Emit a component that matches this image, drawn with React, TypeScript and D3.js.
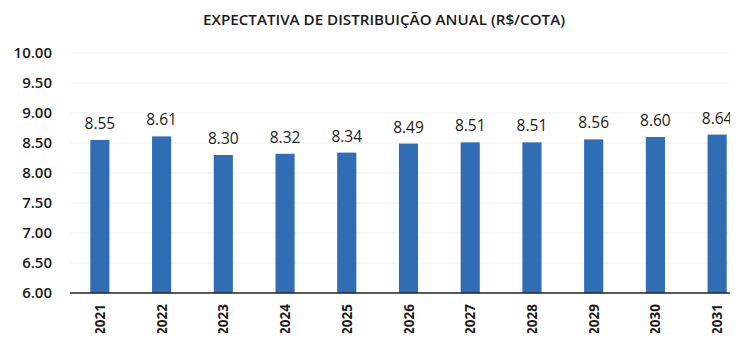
import React, { useEffect, useRef } from "react";
import * as d3 from "d3";

const years = ["2021", "2022", "2023", "2024", "2025", "2026", "2027", "2028", "2029", "2030", "2031"];
const distribution = [8.55, 8.61, 8.3, 8.32, 8.34, 8.49, 8.51, 8.51, 8.56, 8.6, 8.64];
const yTicks = [6, 6.5, 7, 7.5, 8, 8.5, 9, 9.5, 10];
const title = "EXPECTATIVA DE DISTRIBUIÇÃO ANUAL (R$/COTA)";

const W = 738;
const H = 341;
const FONT = "'Open Sans', 'Noto Sans', sans-serif";

export default function App() {
  const ref = useRef<SVGSVGElement>(null);

  useEffect(() => {
    const svg = d3.select(ref.current);
    svg.selectAll("*").remove();

    const x = d3.scaleBand<string>().domain(years).range([69, 748]).paddingInner(0.69).paddingOuter(0.345);
    const y = d3.scaleLinear().domain([6, 10]).range([293, 53]);

    svg.append("rect").attr("width", W).attr("height", H).attr("fill", "#fff");

    svg
      .append("text")
      .attr("x", 203)
      .attr("y", 25)
      .attr("textLength", 362)
      .attr("lengthAdjust", "spacingAndGlyphs")
      .attr("font-family", FONT)
      .attr("font-weight", 600)
      .attr("font-size", 15)
      .attr("fill", "#1a1a1a")
      .text(title);

    // faint horizontal gridlines
    svg
      .append("g")
      .selectAll("line")
      .data(yTicks.slice(1))
      .join("line")
      .attr("x1", 70)
      .attr("x2", W)
      .attr("y1", (d) => y(d))
      .attr("y2", (d) => y(d))
      .attr("stroke", "#efefef")
      .attr("stroke-width", 1);

    // y tick labels
    svg
      .append("g")
      .selectAll("text")
      .data(yTicks)
      .join("text")
      .attr("x", 52)
      .attr("y", (d) => y(d))
      .attr("dy", "0.36em")
      .attr("text-anchor", "end")
      .attr("font-family", FONT)
      .attr("font-weight", 600)
      .attr("font-size", 15)
      .attr("fill", "#1a1a1a")
      .text((d) => d.toFixed(2));

    // bars
    svg
      .append("g")
      .selectAll("rect")
      .data(distribution)
      .join("rect")
      .attr("x", (_, i) => x(years[i])!)
      .attr("width", x.bandwidth())
      .attr("y", (d) => y(d))
      .attr("height", (d) => y(6) - y(d))
      .attr("fill", "#316db5");

    // value labels
    svg
      .append("g")
      .selectAll("text")
      .data(distribution)
      .join("text")
      .attr("x", (_, i) => x(years[i])! + x.bandwidth() / 2)
      .attr("y", (d) => y(d) - 11)
      .attr("text-anchor", "middle")
      .attr("font-family", FONT)
      .attr("font-size", 15.5)
      .attr("fill", "#1a1a1a")
      .text((d) => d.toFixed(2));

    // baseline
    svg
      .append("line")
      .attr("x1", 70)
      .attr("x2", W)
      .attr("y1", y(6))
      .attr("y2", y(6))
      .attr("stroke", "#222")
      .attr("stroke-width", 1.5);

    // x labels, rotated
    svg
      .append("g")
      .selectAll("text")
      .data(years)
      .join("text")
      .attr("transform", (d) => `translate(${x(d)! + x.bandwidth() / 2 + 5},${304}) rotate(-90)`)
      .attr("text-anchor", "end")
      .attr("font-family", FONT)
      .attr("font-weight", 700)
      .attr("font-size", 13.5)
      .attr("fill", "#1a1a1a")
      .text((d) => d);
  }, []);

  return <svg ref={ref} width={W} height={H} style={{ display: "block", margin: "-8px" }} />;
}
